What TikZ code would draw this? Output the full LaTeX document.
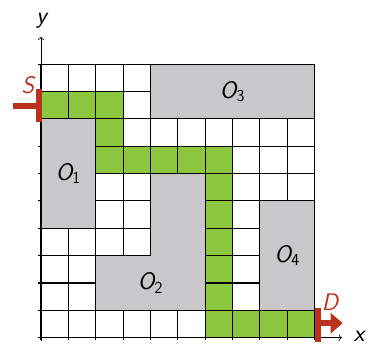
\documentclass[tikz,border=0pt]{standalone}
\usepackage{fontspec}
\usetikzlibrary{arrows.meta}
\definecolor{pathgreen}{RGB}{141,198,63}
\definecolor{obsgray}{RGB}{200,200,202}
\definecolor{markred}{RGB}{186,50,30}
\begin{document}
\begin{tikzpicture}[x=1cm,y=1cm,
  gridline/.style={line width=1.1pt},
  obstacle/.style={fill=obsgray, draw=black, line width=1.1pt},
  pathcell/.style={fill=pathgreen},
  marker/.style={draw=markred, line width=6pt},
  lbl/.style={font=\fontsize{25}{30}\selectfont\sffamily\slshape, inner sep=0pt},
  axisline/.style={line width=0.7pt, ->}]
\useasboundingbox (-1.499,-0.230) rectangle (11.956,12.347);
% path cells
\foreach \c/\r in {0/8,1/8,2/8,2/7,2/6,3/6,4/6,5/6,6/6,6/5,6/4,6/3,6/2,6/1,6/0,7/0,8/0,9/0}
  \fill[pathcell] (\c,\r) rectangle ++(1,1);
% grid and ticks
\draw[gridline] (0,0) grid (10,10);
\foreach \i in {0,...,10} {
  \draw[gridline] (\i,-0.1) -- (\i,0);
  \draw[gridline] (-0.1,\i) -- (0,\i);
}
% obstacles
\draw[obstacle] (0,4) rectangle (2,8);
\draw[obstacle] (2,1) -- (6,1) -- (6,6) -- (4,6) -- (4,3) -- (2,3) -- cycle;
\draw[obstacle] (4,8) rectangle (10,10);
\draw[obstacle] (8,1) rectangle (10,5);
\node[lbl] (o1) at (1,6) {O\textsubscript{\upshape 1}};
\node[lbl] (o2) at (4,2) {O\textsubscript{\upshape 2}};
\node[lbl] (o3) at (7,9) {O\textsubscript{\upshape 3}};
\node[lbl] (o4) at (9,3) {O\textsubscript{\upshape 4}};
% axes
\coordinate (xs) at (-0.1,0);
\coordinate (xe) at (11,0);
\coordinate (ys) at (0,-0.12);
\coordinate (ye) at (0,11);
\draw[axisline] (xs) -- (xe);
\draw[axisline] (ys) -- (ye);
\node[lbl, anchor=base] (xlab) at (11.63,-0.13) {x};
\node[lbl, anchor=base] (ylab) at (0.02,11.47) {y};
% start marker
\coordinate (sb1) at (-0.08,7.88);
\coordinate (sb2) at (-0.08,9.08);
\coordinate (sh1) at (-1.01,8.48);
\coordinate (sh2) at (-0.08,8.48);
\draw[marker] (sb1) -- (sb2);
\draw[marker] (sh1) -- (sh2);
\node[lbl, text=markred] (slab) at (-0.475,9.24) {S};
% destination marker
\coordinate (db1) at (10.13,-0.15);
\coordinate (db2) at (10.13,1.08);
\coordinate (da1) at (10.13,0.53);
\coordinate (da2) at (11.03,0.53);
\draw[marker] (db1) -- (db2);
\draw[marker, -{Triangle[length=0.44cm,width=0.73cm]}] (da1) -- (da2);
\node[lbl, text=markred] (dlab) at (10.57,1.31) {D};
\end{tikzpicture}
\end{document}
